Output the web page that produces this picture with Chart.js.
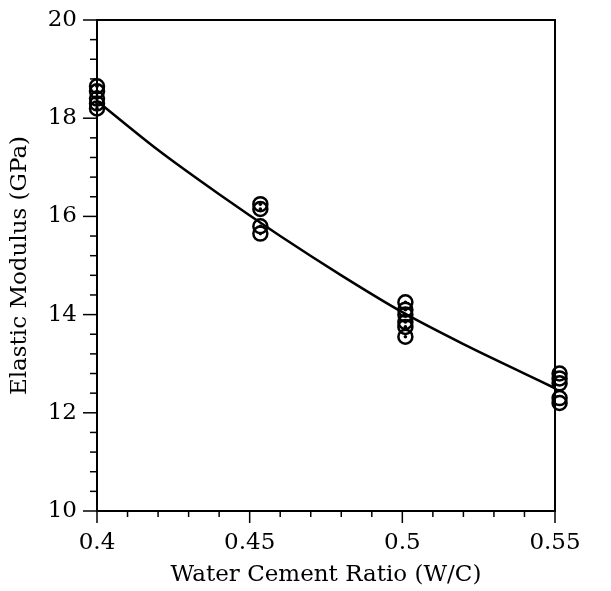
<!DOCTYPE html>
<html><head><meta charset="utf-8">
<script src="https://cdn.jsdelivr.net/npm/chart.js@4/dist/chart.umd.min.js"></script>
<style>html,body{margin:0;padding:0;background:#fff}#wrap{width:611px;height:591px}</style>
</head><body><div id="wrap"><canvas id="c" width="611" height="591"></canvas></div>
<script>
// Measured points (W/C ratio, elastic modulus GPa), grouped by cluster
const ptX = [0.5515,0.5515,0.5515,0.5515,0.5515, 0.4,0.4,0.4,0.4,0.4, 0.4535,0.4535,0.4535,0.4535, 0.501,0.501,0.501,0.501,0.501,0.501];
const ptY = [12.8,12.7,12.6,12.3,12.2, 18.65,18.55,18.4,18.3,18.2, 16.25,16.15,15.8,15.65, 14.25,14.1,14.0,13.85,13.75,13.55];
// Fitted curve
const curveX = [0.40,0.42,0.44,0.46,0.48,0.50,0.52,0.54,0.55];
const curveY = [18.35,17.35,16.45,15.6,14.8,14.05,13.4,12.8,12.5];
const xTicks = [0.4,0.45,0.5,0.55];
const yTicks = [10,12,14,16,18,20];

const FONT = "'DejaVu Serif', 'Liberation Serif', serif";
const pts = ptX.map((x,i)=>({x, y: ptY[i]}));
const curve = curveX.map((x,i)=>({x, y: curveY[i]}));

const frame = {
  id:'frame',
  afterDraw(chart){
    const {ctx, chartArea:a, scales:{x,y}} = chart;
    ctx.save();
    ctx.strokeStyle='#000'; ctx.lineWidth=2;
    ctx.beginPath();
    ctx.moveTo(a.left, a.top); ctx.lineTo(a.right, a.top); ctx.lineTo(a.right, a.bottom);
    ctx.stroke();
    ctx.lineWidth=1.5;
    for(let i=0;i<=15;i++){
      const v = 0.4 + i*0.01;
      const px = x.getPixelForValue(v);
      const len = (i%5===0)?12:6;
      ctx.beginPath(); ctx.moveTo(px, a.bottom); ctx.lineTo(px, a.bottom+len); ctx.stroke();
    }
    for(let i=0;i<=25;i++){
      const v = 10 + i*0.4;
      const py = y.getPixelForValue(v);
      const len = (i%5===0)?14:7;
      ctx.beginPath(); ctx.moveTo(a.left, py); ctx.lineTo(a.left-len, py); ctx.stroke();
    }
    ctx.restore();
  }
};

new Chart(document.getElementById('c'), {
  type:'scatter',
  data:{datasets:[
    {type:'line', data:curve, borderColor:'#000', borderWidth:2.5, pointRadius:0, fill:false, cubicInterpolationMode:'monotone', order:1, clip:false},
    {data:pts, pointStyle:'circle', pointRadius:7, borderColor:'#000', borderWidth:2.5, backgroundColor:'rgba(255,255,255,0)', order:2, clip:false},
    {data:pts, pointStyle:'circle', pointRadius:1.8, borderWidth:0, backgroundColor:'#000', order:3, clip:false}
  ]},
  options:{
    responsive:false, animation:false,
    layout:{padding:0},
    plugins:{legend:{display:false}, tooltip:{enabled:false}},
    scales:{
      x:{type:'linear', min:0.4, max:0.55, position:'bottom',
        afterBuildTicks(s){ s.ticks = xTicks.map(v=>({value:v})); },
        afterFit(s){ s.height = 80; s.paddingLeft = 0; s.paddingRight = 0; },
        grid:{display:false},
        border:{display:true, color:'#000', width:2},
        ticks:{color:'#000', padding:10, maxRotation:0, font:{family:FONT, size:23}, callback:v=>String(+v.toFixed(2))},
        title:{display:true, text:'Water Cement Ratio (W/C)', color:'#000', font:{family:FONT, size:23}, padding:{top:2,bottom:2}}
      },
      y:{type:'linear', min:10, max:20, position:'left',
        afterBuildTicks(s){ s.ticks = yTicks.map(v=>({value:v})); },
        afterFit(s){ s.width = 97; s.paddingTop = 0; s.paddingBottom = 0; },
        grid:{display:false},
        border:{display:true, color:'#000', width:2},
        ticks:{color:'#000', padding:12, font:{family:FONT, size:23}},
        title:{display:true, text:'Elastic Modulus (GPa)', color:'#000', font:{family:FONT, size:23}, padding:{top:6,bottom:2}}
      },
      x2:{type:'linear', position:'top', display:true, min:0.4, max:0.55,
        afterFit(s){ s.height = 20; s.paddingLeft = 0; s.paddingRight = 0; }, grid:{display:false}, border:{display:false}, ticks:{display:false}},
      y2:{type:'linear', position:'right', display:true, min:10, max:20,
        afterFit(s){ s.width = 56; s.paddingTop = 0; s.paddingBottom = 0; }, grid:{display:false}, border:{display:false}, ticks:{display:false}}
    }
  },
  plugins:[frame]
});
</script></body></html>
